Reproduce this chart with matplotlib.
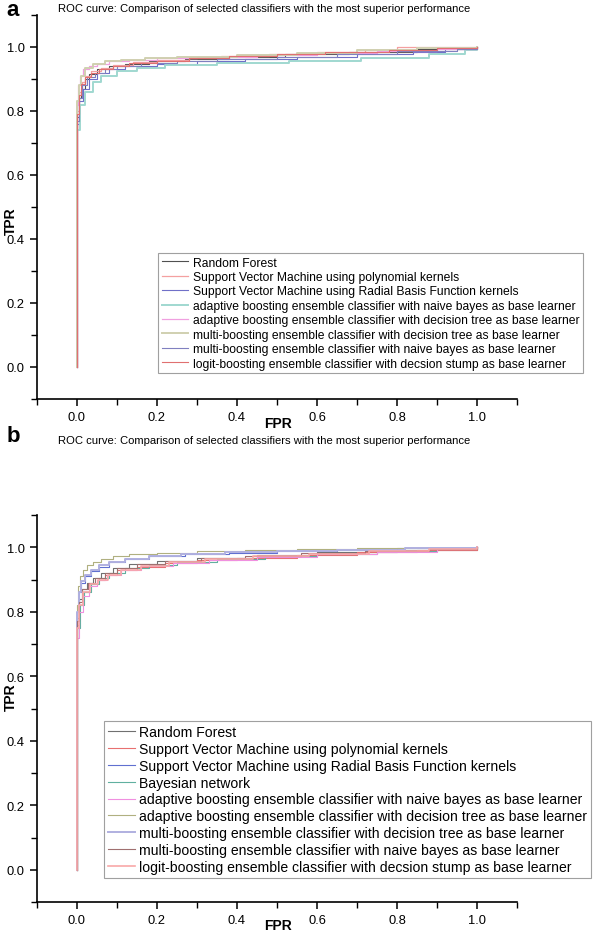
import matplotlib
matplotlib.use("Agg")
import matplotlib.pyplot as plt
from matplotlib.ticker import MultipleLocator

plt.rcParams['font.family'] = ['Liberation Sans', 'DejaVu Sans']

TITLE = "ROC curve: Comparison of selected classifiers with the most superior performance"

# ---------------- Panel a data ----------------
labels_a = [
    "Random Forest",
    "Support Vector Machine using polynomial kernels",
    "Support Vector Machine using Radial Basis Function kernels",
    "adaptive boosting ensemble classifier with naive bayes as base learner",
    "adaptive boosting ensemble classifier with decision tree as base learner",
    "multi-boosting ensemble classifier with decision tree as base learner",
    "multi-boosting ensemble classifier with naive bayes as base learner",
    "logit-boosting ensemble classifier with decsion stump as base learner",
]
a_rf_fpr = [0, 0, 0.004, 0.01, 0.02, 0.03, 0.05, 0.08, 0.12, 0.18, 0.27, 0.38, 0.52, 0.68, 0.85, 1.0]
a_rf_tpr = [0, 0.78, 0.84, 0.87, 0.90, 0.915, 0.93, 0.94, 0.948, 0.955, 0.963, 0.97, 0.977, 0.985, 0.993, 1.0]
a_svmp_fpr = [0, 0, 0.005, 0.012, 0.02, 0.035, 0.06, 0.09, 0.14, 0.2, 0.28, 0.36, 0.48, 0.6, 0.72, 0.8, 1.0]
a_svmp_tpr = [0, 0.80, 0.86, 0.89, 0.91, 0.925, 0.935, 0.945, 0.952, 0.958, 0.966, 0.972, 0.978, 0.985, 0.992, 1.0, 1.0]
a_svmr_fpr = [0, 0, 0.006, 0.015, 0.03, 0.05, 0.08, 0.12, 0.2, 0.3, 0.42, 0.55, 0.7, 0.84, 0.92, 1.0]
a_svmr_tpr = [0, 0.76, 0.83, 0.87, 0.90, 0.92, 0.932, 0.94, 0.948, 0.955, 0.962, 0.97, 0.978, 0.985, 0.995, 1.0]
a_adanb_fpr = [0, 0, 0.008, 0.02, 0.04, 0.06, 0.1, 0.15, 0.22, 0.35, 0.53, 0.71, 0.88, 0.97, 1.0]
a_adanb_tpr = [0, 0.74, 0.82, 0.86, 0.89, 0.91, 0.925, 0.935, 0.945, 0.95, 0.957, 0.965, 0.977, 0.99, 1.0]
a_adadt_fpr = [0, 0, 0.003, 0.008, 0.015, 0.03, 0.05, 0.08, 0.13, 0.2, 0.3, 0.45, 0.6, 0.75, 0.9, 1.0]
a_adadt_tpr = [0, 0.82, 0.88, 0.91, 0.93, 0.94, 0.948, 0.955, 0.96, 0.965, 0.97, 0.975, 0.982, 0.988, 0.995, 1.0]
a_muldt_fpr = [0, 0, 0.004, 0.01, 0.02, 0.04, 0.07, 0.11, 0.17, 0.25, 0.4, 0.55, 0.7, 0.85, 1.0]
a_muldt_tpr = [0, 0.83, 0.88, 0.91, 0.935, 0.948, 0.955, 0.96, 0.965, 0.97, 0.975, 0.982, 0.99, 0.996, 1.0]
a_mulnb_fpr = [0, 0, 0.005, 0.012, 0.025, 0.045, 0.07, 0.1, 0.16, 0.25, 0.35, 0.5, 0.65, 0.8, 0.95, 1.0]
a_mulnb_tpr = [0, 0.77, 0.84, 0.88, 0.905, 0.92, 0.932, 0.942, 0.95, 0.957, 0.963, 0.97, 0.978, 0.986, 0.995, 1.0]
a_logit_fpr = [0, 0, 0.004, 0.01, 0.02, 0.035, 0.055, 0.09, 0.13, 0.2, 0.28, 0.38, 0.5, 0.62, 0.78, 0.9, 1.0]
a_logit_tpr = [0, 0.79, 0.85, 0.885, 0.905, 0.92, 0.93, 0.94, 0.95, 0.957, 0.965, 0.972, 0.978, 0.985, 0.992, 0.997, 1.0]

# ---------------- Panel b data ----------------
labels_b = [
    "Random Forest",
    "Support Vector Machine using polynomial kernels",
    "Support Vector Machine using Radial Basis Function kernels",
    "Bayesian network",
    "adaptive boosting ensemble classifier with naive bayes as base learner",
    "adaptive boosting ensemble classifier with decision tree as base learner",
    "multi-boosting ensemble classifier with decision tree as base learner",
    "multi-boosting ensemble classifier with naive bayes as base learner",
    "logit-boosting ensemble classifier with decsion stump as base learner",
]
b_rf_fpr = [0, 0, 0.005, 0.012, 0.025, 0.04, 0.06, 0.09, 0.13, 0.2, 0.3, 0.45, 0.6, 0.8, 1.0]
b_rf_tpr = [0, 0.78, 0.84, 0.87, 0.89, 0.905, 0.92, 0.935, 0.948, 0.958, 0.967, 0.975, 0.985, 0.993, 1.0]
b_svmp_fpr = [0, 0, 0.006, 0.015, 0.03, 0.05, 0.07, 0.1, 0.15, 0.22, 0.3, 0.4, 0.55, 0.7, 0.85, 1.0]
b_svmp_tpr = [0, 0.76, 0.82, 0.86, 0.885, 0.90, 0.915, 0.928, 0.94, 0.95, 0.96, 0.968, 0.975, 0.985, 0.993, 1.0]
b_svmr_fpr = [0, 0, 0.004, 0.01, 0.02, 0.035, 0.055, 0.08, 0.12, 0.18, 0.27, 0.38, 0.5, 0.65, 0.8, 1.0]
b_svmr_tpr = [0, 0.80, 0.86, 0.89, 0.91, 0.925, 0.94, 0.955, 0.965, 0.972, 0.978, 0.983, 0.988, 0.993, 0.997, 1.0]
b_bn_fpr = [0, 0, 0.007, 0.018, 0.035, 0.055, 0.08, 0.12, 0.18, 0.25, 0.35, 0.47, 0.6, 0.75, 0.9, 1.0]
b_bn_tpr = [0, 0.75, 0.82, 0.86, 0.885, 0.905, 0.92, 0.935, 0.945, 0.955, 0.965, 0.972, 0.98, 0.987, 0.995, 1.0]
b_adanb_fpr = [0, 0, 0.006, 0.015, 0.03, 0.05, 0.075, 0.11, 0.16, 0.24, 0.33, 0.45, 0.6, 0.75, 0.9, 1.0]
b_adanb_tpr = [0, 0.72, 0.80, 0.85, 0.88, 0.90, 0.915, 0.93, 0.942, 0.952, 0.962, 0.97, 0.978, 0.986, 0.994, 1.0]
b_adadt_fpr = [0, 0, 0.003, 0.008, 0.015, 0.025, 0.04, 0.06, 0.09, 0.13, 0.2, 0.3, 0.42, 0.55, 0.7, 1.0]
b_adadt_tpr = [0, 0.82, 0.88, 0.91, 0.93, 0.945, 0.955, 0.965, 0.972, 0.978, 0.983, 0.988, 0.992, 0.995, 0.998, 1.0]
b_muldt_fpr = [0, 0, 0.004, 0.01, 0.02, 0.035, 0.055, 0.08, 0.12, 0.18, 0.26, 0.37, 0.5, 0.65, 0.82, 1.0]
b_muldt_tpr = [0, 0.80, 0.86, 0.895, 0.915, 0.93, 0.945, 0.955, 0.965, 0.972, 0.978, 0.984, 0.989, 0.993, 0.997, 1.0]
b_mulnb_fpr = [0, 0, 0.005, 0.013, 0.027, 0.045, 0.07, 0.1, 0.15, 0.22, 0.31, 0.42, 0.56, 0.72, 0.88, 1.0]
b_mulnb_tpr = [0, 0.77, 0.83, 0.87, 0.89, 0.905, 0.92, 0.935, 0.947, 0.957, 0.966, 0.974, 0.982, 0.989, 0.995, 1.0]
b_logit_fpr = [0, 0, 0.006, 0.016, 0.032, 0.052, 0.078, 0.11, 0.16, 0.23, 0.32, 0.44, 0.58, 0.73, 0.88, 1.0]
b_logit_tpr = [0, 0.75, 0.82, 0.86, 0.885, 0.90, 0.915, 0.93, 0.943, 0.953, 0.963, 0.972, 0.98, 0.988, 0.995, 1.0]

x_ticks = [0.0, 0.2, 0.4, 0.6, 0.8, 1.0]
y_ticks = [0.0, 0.2, 0.4, 0.6, 0.8, 1.0]

series_a = [(a_rf_fpr, a_rf_tpr), (a_svmp_fpr, a_svmp_tpr), (a_svmr_fpr, a_svmr_tpr),
            (a_adanb_fpr, a_adanb_tpr), (a_adadt_fpr, a_adadt_tpr), (a_muldt_fpr, a_muldt_tpr),
            (a_mulnb_fpr, a_mulnb_tpr), (a_logit_fpr, a_logit_tpr)]
colors_a = ['#505050', '#f4a0a0', '#7070c8', '#a0d8d0', '#f0a0e0', '#d0d0b0', '#8080c0', '#e07070']
widths_a = [0.8, 0.9, 0.8, 1.4, 0.9, 1.4, 0.8, 0.8]

series_b = [(b_rf_fpr, b_rf_tpr), (b_svmp_fpr, b_svmp_tpr), (b_svmr_fpr, b_svmr_tpr),
            (b_bn_fpr, b_bn_tpr), (b_adanb_fpr, b_adanb_tpr), (b_adadt_fpr, b_adadt_tpr),
            (b_muldt_fpr, b_muldt_tpr), (b_mulnb_fpr, b_mulnb_tpr), (b_logit_fpr, b_logit_tpr)]
colors_b = ['#707070', '#e87070', '#6070d0', '#60b0a0', '#f090e0', '#b0b080', '#b0b0e0', '#a07070', '#f8a8a8']
widths_b = [0.8, 0.8, 0.8, 0.8, 0.8, 0.8, 1.4, 0.8, 1.2]

W, H = 600, 937
fig = plt.figure(figsize=(W / 100, H / 100), dpi=100)


def fx(px):
    return px / W


def fy(py):
    return 1 - py / H


def style(ax):
    ax.set_xlim(-0.1, 1.1)
    ax.set_ylim(-0.1, 1.1)
    for s in ['top', 'right']:
        ax.spines[s].set_visible(False)
    for s in ['left', 'bottom']:
        ax.spines[s].set_linewidth(1.2)
    ax.set_xticks(x_ticks)
    ax.set_yticks(y_ticks)
    ax.set_xticklabels([f"{v:.1f}" for v in x_ticks])
    ax.set_yticklabels([f"{v:.1f}" for v in y_ticks])
    ax.xaxis.set_minor_locator(MultipleLocator(0.1))
    ax.yaxis.set_minor_locator(MultipleLocator(0.1))
    ax.tick_params(which='major', direction='out', length=5, width=1.1, labelsize=9.3, pad=4)
    ax.tick_params(which='minor', direction='out', length=4, width=1.0)


def draw(ax, series, colors, widths, labels):
    for (fpr, tpr), c, w, lab in zip(series, colors, widths, labels):
        ax.step(fpr, tpr, where='post', color=c, lw=w, label=lab)


# Panel a: axes spans x 37..517, y 16..400
ax_a = fig.add_axes([fx(37), fy(400), fx(517) - fx(37), fy(16) - fy(400)])
draw(ax_a, series_a, colors_a, widths_a, labels_a)
style(ax_a)
ax_a.legend(loc='upper left', bbox_to_anchor=(fx(158), fy(254)), bbox_transform=fig.transFigure,
            fontsize=8.7, frameon=True, fancybox=False, edgecolor='#888888', handlelength=2.2,
            handletextpad=0.4, labelspacing=0.2, borderpad=0.3, borderaxespad=0)
ax_a.get_legend().get_frame().set_linewidth(0.8)

# Panel b: axes spans x 37..517, y 516..904
ax_b = fig.add_axes([fx(37), fy(903), fx(517) - fx(37), fy(516) - fy(903)])
draw(ax_b, series_b, colors_b, widths_b, labels_b)
style(ax_b)
ax_b.legend(loc='upper left', bbox_to_anchor=(fx(104), fy(722)), bbox_transform=fig.transFigure,
            fontsize=10.1, frameon=True, fancybox=False, edgecolor='#888888', handlelength=1.9,
            handletextpad=0.3, labelspacing=0.2, borderpad=0.3, borderaxespad=0)
ax_b.get_legend().get_frame().set_linewidth(0.8)

# Titles, panel letters and axis labels
fig.text(fx(58), fy(9), TITLE, fontsize=8.1, va='center', ha='left')
fig.text(fx(58), fy(441), TITLE, fontsize=8.1, va='center', ha='left')
fig.text(fx(13), fy(10), 'a', fontsize=16, fontweight='bold', va='center', ha='center')
fig.text(fx(13), fy(436), 'b', fontsize=16, fontweight='bold', va='center', ha='center')
fig.text(fx(278), fy(424), 'FPR', fontsize=10, fontweight='bold', va='center', ha='center')
fig.text(fx(278), fy(926), 'FPR', fontsize=10, fontweight='bold', va='center', ha='center')
fig.text(fx(11), fy(221), 'TPR', fontsize=10, fontweight='bold', va='center', ha='center', rotation=90)
fig.text(fx(11), fy(697), 'TPR', fontsize=10, fontweight='bold', va='center', ha='center', rotation=90)

fig.savefig('out.png', dpi=100)
